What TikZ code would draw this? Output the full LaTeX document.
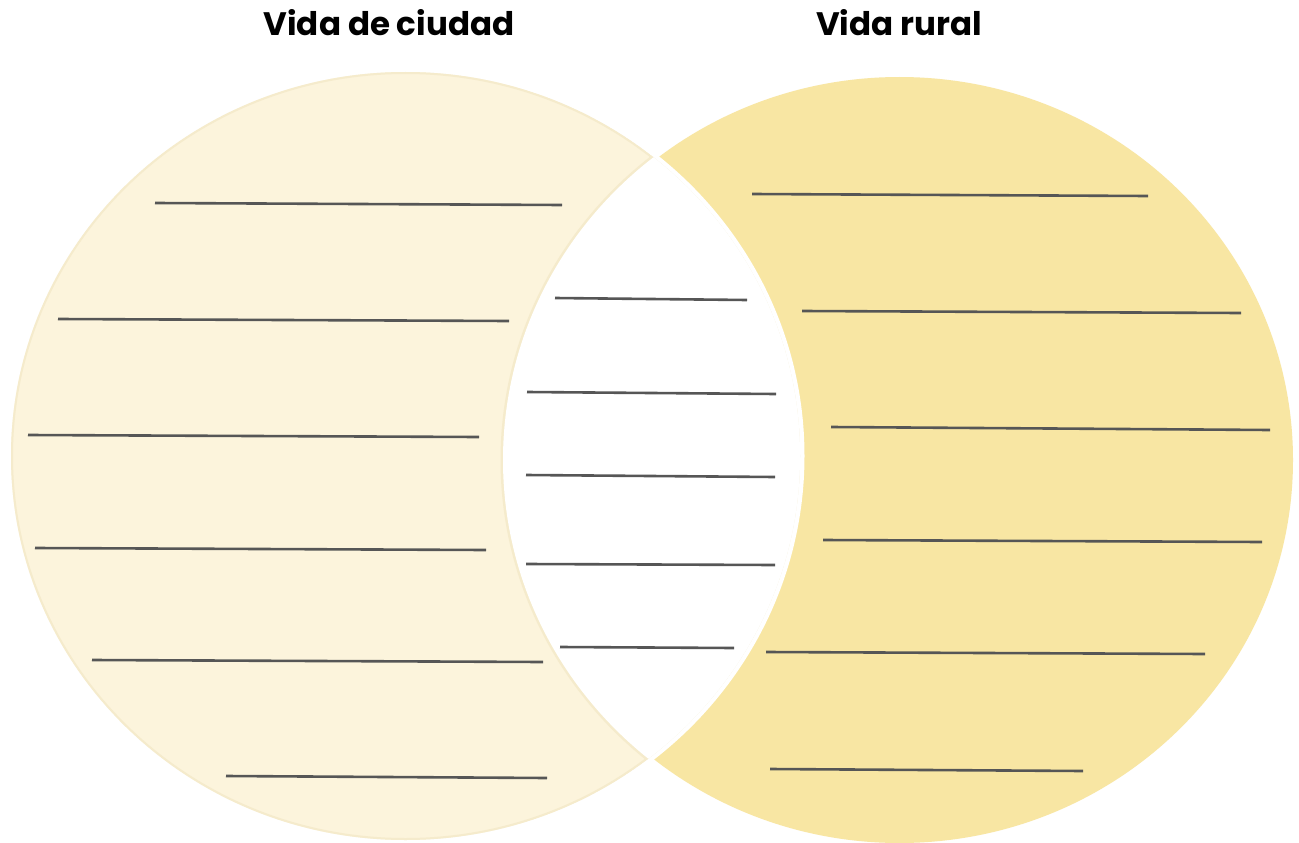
\documentclass[tikz,border=0pt]{standalone}
\usepackage{fontspec}
\setmainfont{Poppins}
\definecolor{creamfill}{HTML}{FCF4DC}
\definecolor{creamedge}{HTML}{F5EBCC}
\definecolor{goldfill}{HTML}{F8E6A3}
\definecolor{lineclr}{HTML}{565656}
\tikzset{
  title/.style={font=\fontsize{32.5}{38}\selectfont\bfseries, text=black, anchor=base, inner sep=0pt},
  blank/.style={draw=lineclr, line width=2.6pt},
}
\begin{document}
\begin{tikzpicture}[x=1pt,y=-1pt]
\useasboundingbox (0,0) rectangle (1299,843);
\fill[white] (0,0) rectangle (1299,843);
% right circle
\fill[goldfill] (899.5,460) ellipse[x radius=393.5pt, y radius=383pt];
% gap around left circle
\fill[white] (405.5,456) ellipse[x radius=399pt, y radius=388pt];
% left crescent
\begin{scope}
  \clip (405.5,456) ellipse[x radius=394.5pt, y radius=384pt];
  \fill[creamfill] (405.5,456) ellipse[x radius=394.5pt, y radius=384pt];
  \draw[creamedge, line width=4pt] (405.5,456) ellipse[x radius=394.5pt, y radius=384pt];
  \fill[white] (899.5,460) ellipse[x radius=397.5pt, y radius=387pt];
  \draw[creamedge, line width=3pt] (899.5,460) ellipse[x radius=397.5pt, y radius=387pt];
  \fill[white] (899.5,460) ellipse[x radius=396.5pt, y radius=386pt];
\end{scope}
% titles
\node[title] (tcity) at (389,36) {Vida de ciudad};
\node[title] (trural) at (899,36) {Vida rural};
% left lines
\draw[blank] (155,203) -- (562,205);
\draw[blank] (58,319) -- (509,321);
\draw[blank] (28,435) -- (479,437);
\draw[blank] (35,548) -- (486,550);
\draw[blank] (92,660) -- (543,662);
\draw[blank] (226,776) -- (547,778);
% middle lines
\draw[blank] (555,298) -- (747,300);
\draw[blank] (527,392) -- (776,394);
\draw[blank] (526,475) -- (775,477);
\draw[blank] (526,564) -- (775,565);
\draw[blank] (560,647) -- (734,648);
% right lines
\draw[blank] (752,194) -- (1148,196);
\draw[blank] (802,311) -- (1241,313);
\draw[blank] (831,427) -- (1270,430);
\draw[blank] (823,540) -- (1262,542);
\draw[blank] (766,652) -- (1205,654);
\draw[blank] (770,769) -- (1083,771);
\end{tikzpicture}
\end{document}
